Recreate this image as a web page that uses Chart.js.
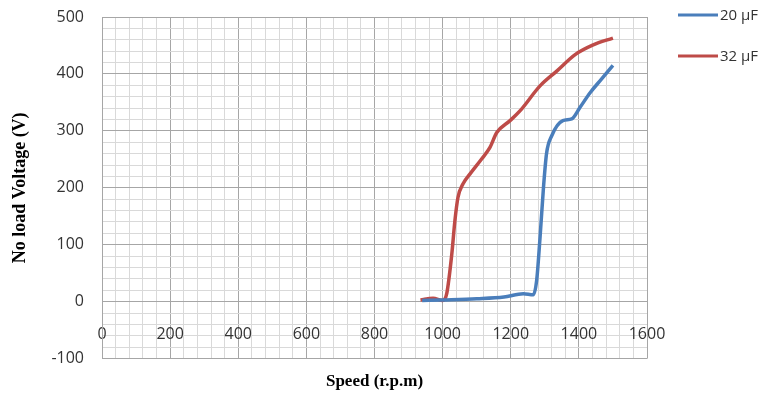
<!DOCTYPE html>
<html>
<head>
<meta charset="utf-8">
<script src="https://cdn.jsdelivr.net/npm/chart.js@4/dist/chart.umd.min.js"></script>
<style>
    html, body { margin: 0; padding: 0; background: #fff; }
    #wrap { width: 763px; height: 394px; }
</style>
</head>
<body>
<div id="wrap"><canvas id="chart"></canvas></div>
<script>
// Data
const speed20 = [940, 1000, 1100, 1180, 1237, 1266, 1276, 1286, 1296, 1305, 1320, 1353, 1379, 1403, 1433, 1465, 1500];
const volt20  = [2, 3, 5, 8, 14, 12, 37, 113, 200, 260, 291, 318, 321, 341, 367, 390, 415];

const speed32 = [935, 972, 1000, 1012, 1027, 1036, 1045, 1060, 1080, 1115, 1139, 1159, 1198, 1227, 1286, 1335, 1389, 1442, 1500];
const volt32  = [3, 6, 2, 14, 84, 142, 183, 207, 224, 251, 271, 297, 318, 335, 379, 405, 434, 451, 463];

const seriesLabels = ['20 \u00b5F', '32 \u00b5F'];
const xTicks = [0, 200, 400, 600, 800, 1000, 1200, 1400, 1600];
const yTicks = [-100, 0, 100, 200, 300, 400, 500];

const majorGrid = '#a6a6a6';
const minorGrid = '#d9d9d9';

function toPoints(xs, ys) {
    return xs.map((x, i) => ({x: x, y: ys[i]}));
}

// Legend drawn at the right, like the Excel one
const sideLegend = {
    id: 'sideLegend',
    afterDraw(chart) {
        const ctx = chart.ctx;
        const rows = [15, 56];
        ctx.save();
        chart.data.datasets.forEach((ds, i) => {
            const y = rows[i];
            ctx.strokeStyle = ds.borderColor;
            ctx.lineWidth = 3;
            ctx.beginPath();
            ctx.moveTo(678, y);
            ctx.lineTo(718, y);
            ctx.stroke();
            ctx.fillStyle = '#333';
            ctx.font = '15px "Open Sans"';
            ctx.textBaseline = 'middle';
            ctx.fillText(ds.label, 720, y + 1);
        });
        ctx.restore();
    }
};

new Chart(document.getElementById('chart').getContext('2d'), {
    type: 'scatter',
    data: {
        datasets: [{
            label: seriesLabels[0],
            data: toPoints(speed20, volt20),
            showLine: true,
            borderColor: '#4a7ebb',
            borderWidth: 3.5,
            pointRadius: 0,
            cubicInterpolationMode: 'monotone'
        }, {
            label: seriesLabels[1],
            data: toPoints(speed32, volt32),
            showLine: true,
            borderColor: '#be4b48',
            borderWidth: 3.5,
            pointRadius: 0,
            cubicInterpolationMode: 'monotone'
        }]
    },
    options: {
        responsive: true,
        maintainAspectRatio: false,
        animation: false,
        layout: {
            padding: {left: 10, right: 116, top: 17, bottom: 0}
        },
        scales: {
            x: {
                type: 'linear',
                position: {y: 0},
                min: 0,
                max: 1600,
                ticks: {
                    stepSize: 40,
                    autoSkip: false,
                    maxRotation: 0,
                    padding: 23,
                    color: '#333',
                    font: {family: 'Open Sans', size: 16},
                    callback: v => xTicks.includes(v) ? v : ''
                },
                grid: {
                    drawTicks: false,
                    color: c => xTicks.includes(c.tick.value) ? majorGrid : minorGrid
                },
                border: {display: false},
                afterFit: scale => { scale.paddingTop = 0; scale.paddingBottom = 0; }
            },
            y: {
                min: -100,
                max: 500,
                ticks: {
                    stepSize: 20,
                    autoSkip: false,
                    padding: 18,
                    color: '#333',
                    font: {family: 'Open Sans', size: 16},
                    callback: v => yTicks.includes(Math.round(v)) ? Math.round(v) : ''
                },
                grid: {
                    drawTicks: false,
                    color: c => yTicks.includes(Math.round(c.tick.value)) ? majorGrid : minorGrid
                },
                border: {color: majorGrid},
                title: {
                    display: true,
                    text: 'No load Voltage (V)',
                    color: '#000',
                    font: {family: 'Liberation Serif', size: 18, weight: 'bold'},
                    padding: {top: 0, bottom: 0}
                },
                afterFit: scale => {
                    scale.width = 92;
                    scale.paddingTop = 0;
                    scale.paddingBottom = 0;
                }
            }
        },
        plugins: {
            legend: {display: false},
            tooltip: {enabled: false},
            title: {
                display: true,
                position: 'bottom',
                fullSize: false,
                text: 'Speed (r.p.m)',
                color: '#000',
                font: {family: 'Liberation Serif', size: 17, weight: 'bold'},
                padding: {top: 13, bottom: 2}
            }
        }
    },
    plugins: [sideLegend]
});
</script>
</body>
</html>
